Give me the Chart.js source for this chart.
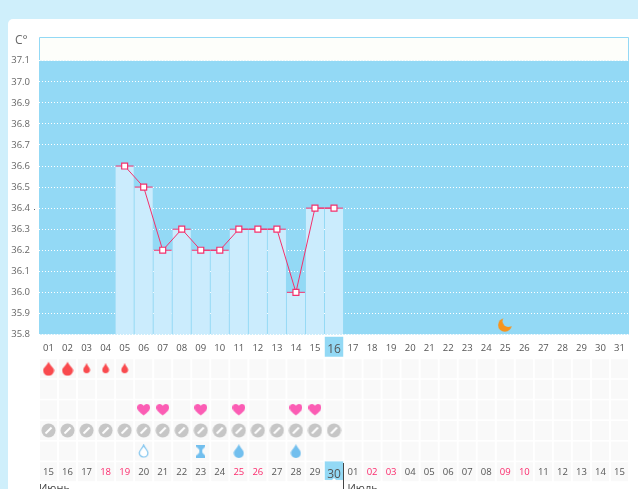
<!DOCTYPE html>
<html><head><meta charset="utf-8">
<style>
html,body{margin:0;padding:0;background:#cfeffb;width:638px;height:489px;overflow:hidden}
#card{position:absolute;left:8px;top:19px;width:640px;height:490px;background:#fff;border-radius:5px}
canvas{position:absolute;left:0;top:0}
</style>
<script src="https://cdn.jsdelivr.net/npm/chart.js@4"></script>
</head><body><div id="card"></div><canvas id="c" width="638" height="489"></canvas>
<script>
const days=['01','02','03','04','05','06','07','08','09','10','11','12','13','14','15','16','17','18','19','20','21','22','23','24','25','26','27','28','29','30','31'];
const cycleDays=['15','16','17','18','19','20','21','22','23','24','25','26','27','28','29','30','01','02','03','04','05','06','07','08','09','10','11','12','13','14','15'];
const redCycleIdx=[3,4,10,11,17,18,24,25];
const tempTicks=[35.8,35.9,36.0,36.1,36.2,36.3,36.4,36.5,36.6,36.7,36.8,36.9,37.0,37.1];
const temps=[null,null,null,null,36.6,36.5,36.2,36.3,36.2,36.2,36.3,36.3,36.3,36.0,36.4,36.4,null,null,null,null,null,null,null,null,null,null,null,null,null,null,null];
const heavyFlow=['01','02'];
const lightFlow=['03','04','05'];
const hearts=['06','07','09','11','14','15'];
const pills=['01','02','03','04','05','06','07','08','09','10','11','12','13','14','15','16'];
const ringDrop=['06'];
const hourglass=['09'];
const blueDrop=['11','14'];
const moon=[{x:'25',y:35.845}];
const tileRows=[1,2,3,4,5,6];
const todayIdx=15;
const months=['Июнь','Июль'];

const TXT='#555';const PINK='#f3316d';const RED='#fb2a6c';const BLUE='#93d9f5';const PALE='#cbecfd';
const FONT='"Open Sans"';
function icon(w,h,fn){const c=document.createElement('canvas');c.width=w;c.height=h;fn(c.getContext('2d'));return c;}
function dropPath(g,cx,top,r,bot){g.beginPath();g.moveTo(cx,top);g.bezierCurveTo(cx+r*0.35,top+(bot-top)*0.3,cx+r,top+(bot-top)*0.45,cx+r,bot-r);g.arc(cx,bot-r,r,0,Math.PI);g.bezierCurveTo(cx-r,top+(bot-top)*0.45,cx-r*0.35,top+(bot-top)*0.3,cx,top);g.closePath();}
const iconBig=icon(12,15,g=>{dropPath(g,6,0.5,5.5,14.5);g.fillStyle='#f94a4e';g.fill();});
const iconSmall=icon(8,11,g=>{dropPath(g,4,0,3.4,10);g.fillStyle='#f94a4e';g.fill();});
const iconHeart=icon(13,12,g=>{g.fillStyle='#fb5cb4';g.beginPath();g.moveTo(6.5,11.5);g.bezierCurveTo(2,8,0,6,0,3.5);g.bezierCurveTo(0,1,2,0,3.5,0);g.bezierCurveTo(5,0,6,1,6.5,2);g.bezierCurveTo(7,1,8,0,9.5,0);g.bezierCurveTo(11,0,13,1,13,3.5);g.bezierCurveTo(13,6,11,8,6.5,11.5);g.fill();});
const iconPill=icon(15,15,g=>{g.fillStyle='#c6c6c6';g.beginPath();g.arc(7.5,7.5,7,0,7);g.fill();g.strokeStyle='#fff';g.lineWidth=2;g.beginPath();g.moveTo(4.5,10.5);g.lineTo(10.5,4.5);g.stroke();});
const iconRing=icon(11,14,g=>{dropPath(g,5.5,1,4.3,13);g.fillStyle='#fff';g.fill();g.strokeStyle='#7cc3ee';g.lineWidth=1.2;g.stroke();});
const iconGlass=icon(9,13,g=>{g.fillStyle='#72bfee';g.beginPath();g.moveTo(0,0);g.lineTo(9,0);g.lineTo(9,2);g.lineTo(6,5);g.lineTo(6,8);g.lineTo(9,11);g.lineTo(9,13);g.lineTo(0,13);g.lineTo(0,11);g.lineTo(3,8);g.lineTo(3,5);g.lineTo(0,2);g.fill();});
const iconBlue=icon(11,14,g=>{dropPath(g,5.5,0,5,14);g.fillStyle='#72bfee';g.fill();});
const iconMoon=icon(15,14,g=>{g.fillStyle='#f7941d';g.beginPath();g.arc(7,7,6.8,0,7);g.fill();g.globalCompositeOperation='destination-out';g.beginPath();g.arc(10.5,3.2,5.8,0,7);g.fill();});

const pts=(arr,row)=>arr.map(d=>({x:d,y:row}));
const iconSet=(arr,row,img)=>({type:'line',showLine:false,yAxisID:'band',order:1,data:pts(arr,row),pointStyle:img,pointRadius:6,pointHoverRadius:6});

const decor={id:'decor',
 beforeDraw(ch){const g=ch.ctx,a=ch.chartArea,y=ch.scales.y;
  const t=y.getPixelForValue(37.1),b=y.getPixelForValue(35.8);
  g.save();g.fillStyle='#fdfefa';g.fillRect(a.left,a.top,a.width,t-a.top);
  g.fillStyle=BLUE;g.fillRect(a.left,t,a.width,b-t);
  g.strokeStyle=BLUE;g.lineWidth=1;g.beginPath();g.moveTo(a.left+.5,t);g.lineTo(a.left+.5,a.top+.5);g.lineTo(a.right-.5,a.top+.5);g.lineTo(a.right-.5,t);g.stroke();
  g.restore();},
 afterDraw(ch){const g=ch.ctx,x=ch.scales.x;
  g.save();g.fillStyle='#666';g.textBaseline='alphabetic';
  g.font='12px '+FONT;g.fillText('C°',15,44);
  g.fillRect(34,209,1,1);
  g.fillStyle='#444';g.font='11px '+FONT;
  g.fillText(months[0],39,492);
  const cx=x.getPixelForValue(days[todayIdx]);
  const sep=Math.floor(cx+x.width/62)+.5;
  g.fillText(months[1],sep+4,492);
  g.strokeStyle='#444';g.beginPath();g.moveTo(sep,463);g.lineTo(sep,489);g.stroke();
  g.fillStyle='#fff';g.beginPath();g.moveTo(cx-2.5,480.5);g.lineTo(cx,478);g.lineTo(cx+2.5,480.5);g.fill();
  g.restore();}
};
const datasets=[
 ...tileRows.map(r=>({type:'bar',yAxisID:'band',order:9,grouped:false,barPercentage:.9,backgroundColor:'#f9f9f9',data:days.map(d=>[r-.46,r+.46])})),
 {type:'bar',yAxisID:'band',order:8,grouped:false,barPercentage:.97,backgroundColor:BLUE,data:days.map((d,i)=>i===todayIdx?[-.55,.42]:null)},
 {type:'bar',yAxisID:'band',order:8,grouped:false,barPercentage:.97,backgroundColor:BLUE,data:days.map((d,i)=>i===todayIdx?[5.5,6.4]:null)},
 {type:'bar',yAxisID:'y',order:5,grouped:false,barPercentage:.95,base:35.8,backgroundColor:PALE,data:temps},
 {type:'line',yAxisID:'y',order:3,showLine:false,pointStyle:'line',pointRadius:9,pointBorderColor:PINK,pointBorderWidth:1,data:temps},
 {type:'line',yAxisID:'y',order:2,borderColor:PINK,borderWidth:1,pointStyle:'rect',pointRadius:4.2,pointBackgroundColor:'#fff',pointBorderColor:PINK,pointBorderWidth:1.2,spanGaps:false,data:temps},
 iconSet(heavyFlow,1,iconBig),iconSet(lightFlow,1,iconSmall),iconSet(hearts,3,iconHeart),iconSet(pills,4,iconPill),iconSet(ringDrop,5,iconRing),iconSet(hourglass,5,iconGlass),iconSet(blueDrop,5,iconBlue),
 {type:'line',showLine:false,yAxisID:'y',order:1,data:moon,pointStyle:iconMoon,pointRadius:6}
];
const noHeight=s=>{s.height=0;s.paddingTop=0;s.paddingBottom=0;s.paddingLeft=0;s.paddingRight=0;};
new Chart(document.getElementById('c'),{type:'bar',plugins:[decor],
 data:{labels:days,datasets},
 options:{responsive:false,animation:false,devicePixelRatio:1,
  categoryPercentage:1,
  layout:{autoPadding:false,padding:{left:0,top:37,right:9,bottom:7}},
  plugins:{legend:{display:false},tooltip:{enabled:false}},
  scales:{
   x:{type:'category',offset:true,position:{band:-.65},afterFit:noHeight,grid:{display:false},border:{display:false},
      ticks:{z:1,autoSkip:false,maxRotation:0,padding:0,color:TXT,font:c=>({family:FONT,size:c.index===todayIdx?12:9.5})}},
   x2:{type:'category',axis:'x',labels:cycleDays,offset:true,position:{band:5.38},afterFit:noHeight,grid:{display:false},border:{display:false},
      ticks:{z:1,autoSkip:false,maxRotation:0,padding:0,color:c=>redCycleIdx.includes(c.index)?RED:TXT,font:c=>({family:FONT,size:c.index===todayIdx?12:9.5})}},
   y:{type:'linear',position:'left',min:35.099,max:37.213,
      afterBuildTicks:s=>{s.ticks=tempTicks.map(v=>({value:v}));},
      afterFit:s=>{s.width=39;s.paddingTop=0;s.paddingBottom=0;},
      grid:{color:'#fff',drawTicks:false,lineWidth:1},border:{display:false,dash:[1,2]},
      ticks:{color:'#666',padding:9,font:{family:FONT,size:9.5},callback:v=>v.toFixed(1)}},
   band:{type:'linear',axis:'y',position:'left',display:false,reverse:true,min:-15.1,max:6.5}
  }}});
</script></body></html>
